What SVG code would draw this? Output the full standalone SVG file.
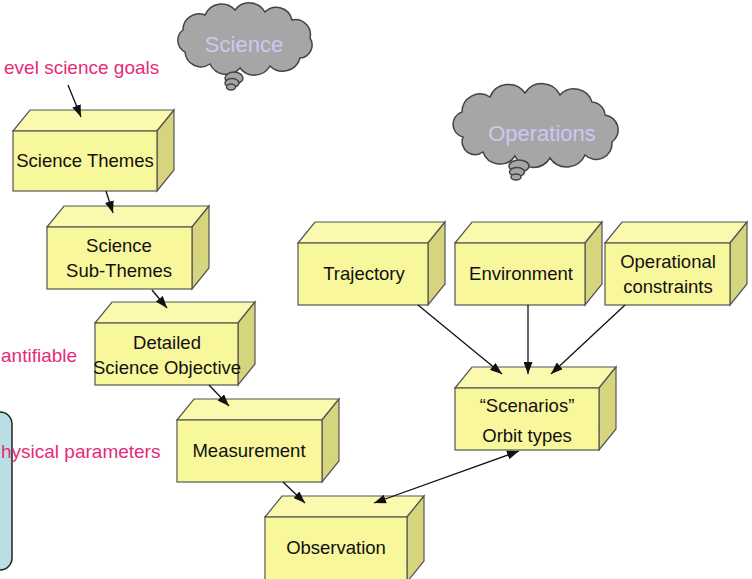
<svg xmlns="http://www.w3.org/2000/svg" width="752" height="579" viewBox="0 0 752 579">
<style>
.front{fill:#f9f79c;stroke:#555;stroke-width:1.2}
.top{fill:#fbf9ae;stroke:#555;stroke-width:1.2}
.side{fill:#d6d47c;stroke:#555;stroke-width:1.2}
.lbl{font-family:"Liberation Sans",Arial,sans-serif;font-size:18.5px;fill:#111;text-anchor:middle}
.pink{font-family:"Liberation Sans",Arial,sans-serif;font-size:19px;fill:#e62b78}
.cloud{fill:#a6a6a6;stroke:#444;stroke-width:1.5}
.ctext{font-family:"Liberation Sans",Arial,sans-serif;font-size:22px;fill:#cbc8f4;text-anchor:middle}
.conn{stroke:#111;stroke-width:1.3;fill:none;marker-end:url(#ah)}
</style>
<defs>
<marker id="ah" viewBox="0 0 12 9" refX="12" refY="4.5" markerWidth="12" markerHeight="9" markerUnits="userSpaceOnUse" orient="auto-start-reverse">
<path d="M0,0 L12,4.5 L0,9 z" fill="#111"/>
</marker>
</defs>
<rect width="752" height="579" fill="#ffffff"/>

<g id="side-panel">
<rect x="-20" y="412" width="32" height="158" rx="12" fill="#b9dfe4" stroke="#222" stroke-width="1.5"/>
</g>

<g id="labels">
<text class="pink" x="4" y="74">evel science goals</text>
<text class="pink" x="1" y="362">antifiable</text>
<text class="pink" x="1" y="458">hysical parameters</text>
</g>

<g id="cloud-science">
<path class="cloud" d="M185,52 A13,13 0 0 1 183,30 A16,16 0 0 1 205,15 A18,18 0 0 1 235,10 A18,18 0 0 1 265,12 A16,16 0 0 1 292,20 A15,15 0 0 1 310,38 A13,13 0 0 1 300,58 A18,18 0 0 1 270,66 A18,18 0 0 1 240,68 A18,18 0 0 1 210,64 A16,16 0 0 1 185,52 Z"/>
<ellipse class="cloud" cx="234" cy="78" rx="9" ry="6"/>
<ellipse class="cloud" cx="232" cy="83" rx="7" ry="4.5"/>
<ellipse class="cloud" cx="231" cy="87" rx="4.5" ry="3"/>
<text class="ctext" x="244" y="52">Science</text>
</g>

<g id="cloud-operations">
<path class="cloud" d="M463,137 A13,13 0 0 1 462,112 A18,18 0 0 1 490,97 A20,20 0 0 1 525,93 A20,20 0 0 1 560,95 A19,19 0 0 1 592,102 A14,14 0 0 1 605,115 A15,15 0 0 1 612,142 A16,16 0 0 1 585,155 A20,20 0 0 1 550,158 A20,20 0 0 1 515,156 A18,18 0 0 1 483,152 A13,13 0 0 1 463,137 Z"/>
<ellipse class="cloud" cx="519" cy="166" rx="10" ry="6"/>
<ellipse class="cloud" cx="517" cy="172" rx="7.5" ry="4.5"/>
<ellipse class="cloud" cx="516" cy="177" rx="5" ry="3"/>
<text class="ctext" x="542" y="141">Operations</text>
</g>

<g id="science-themes">
<polygon class="top" points="13,131 30,110 174,110 157,131"/>
<polygon class="side" points="157,131 174,110 174,170 157,191"/>
<rect class="front" x="13" y="131" width="144" height="60"/>
<text class="lbl" x="85" y="167">Science Themes</text>
</g>

<g id="science-sub-themes">
<polygon class="top" points="47,227 64,206 209,206 192,227"/>
<polygon class="side" points="192,227 209,206 209,268 192,289"/>
<rect class="front" x="47" y="227" width="145" height="62"/>
<text class="lbl" x="119" y="252">Science</text>
<text class="lbl" x="119" y="277">Sub-Themes</text>
</g>

<g id="detailed-science-objective">
<polygon class="top" points="95,323 112,302 255,302 238,323"/>
<polygon class="side" points="238,323 255,302 255,364 238,385"/>
<rect class="front" x="95" y="323" width="143" height="62"/>
<text class="lbl" x="167" y="349">Detailed</text>
<text class="lbl" x="167" y="374">Science Objective</text>
</g>

<g id="measurement">
<polygon class="top" points="177,420 194,399 339,399 322,420"/>
<polygon class="side" points="322,420 339,399 339,461 322,482"/>
<rect class="front" x="177" y="420" width="145" height="62"/>
<text class="lbl" x="249" y="457">Measurement</text>
</g>

<g id="observation">
<polygon class="top" points="265,517 282,496 424,496 407,517"/>
<polygon class="side" points="407,517 424,496 424,561 407,582"/>
<rect class="front" x="265" y="517" width="142" height="65"/>
<text class="lbl" x="336" y="554">Observation</text>
</g>

<g id="trajectory">
<polygon class="top" points="298,243 315,222 445,222 428,243"/>
<polygon class="side" points="428,243 445,222 445,284 428,305"/>
<rect class="front" x="298" y="243" width="130" height="62"/>
<text class="lbl" x="364" y="280">Trajectory</text>
</g>

<g id="environment">
<polygon class="top" points="455,243 472,222 602,222 585,243"/>
<polygon class="side" points="585,243 602,222 602,284 585,305"/>
<rect class="front" x="455" y="243" width="130" height="62"/>
<text class="lbl" x="521" y="280">Environment</text>
</g>

<g id="operational-constraints">
<polygon class="top" points="605,243 622,222 747,222 730,243"/>
<polygon class="side" points="730,243 747,222 747,284 730,305"/>
<rect class="front" x="605" y="243" width="125" height="62"/>
<text class="lbl" x="668" y="268">Operational</text>
<text class="lbl" x="668" y="293">constraints</text>
</g>

<g id="scenarios">
<polygon class="top" points="455,388 472,367 616,367 599,388"/>
<polygon class="side" points="599,388 616,367 616,429 599,450"/>
<rect class="front" x="455" y="388" width="144" height="62"/>
<text class="lbl" x="527" y="412">“Scenarios”</text>
<text class="lbl" x="527" y="442">Orbit types</text>
</g>

<g id="connectors">
<line class="conn" x1="68" y1="85" x2="81" y2="117"/>
<line class="conn" x1="106" y1="191" x2="113" y2="213"/>
<line class="conn" x1="152" y1="290" x2="167" y2="308"/>
<line class="conn" x1="209" y1="385" x2="229" y2="406"/>
<line class="conn" x1="283" y1="482" x2="305" y2="503"/>
<line class="conn" x1="418" y1="305" x2="502" y2="374"/>
<line class="conn" x1="528" y1="305" x2="528" y2="374"/>
<line class="conn" x1="625" y1="305" x2="551" y2="374"/>
<line class="conn" x1="519" y1="451" x2="374" y2="503" style="marker-start:url(#ah)"/>
</g>
</svg>
